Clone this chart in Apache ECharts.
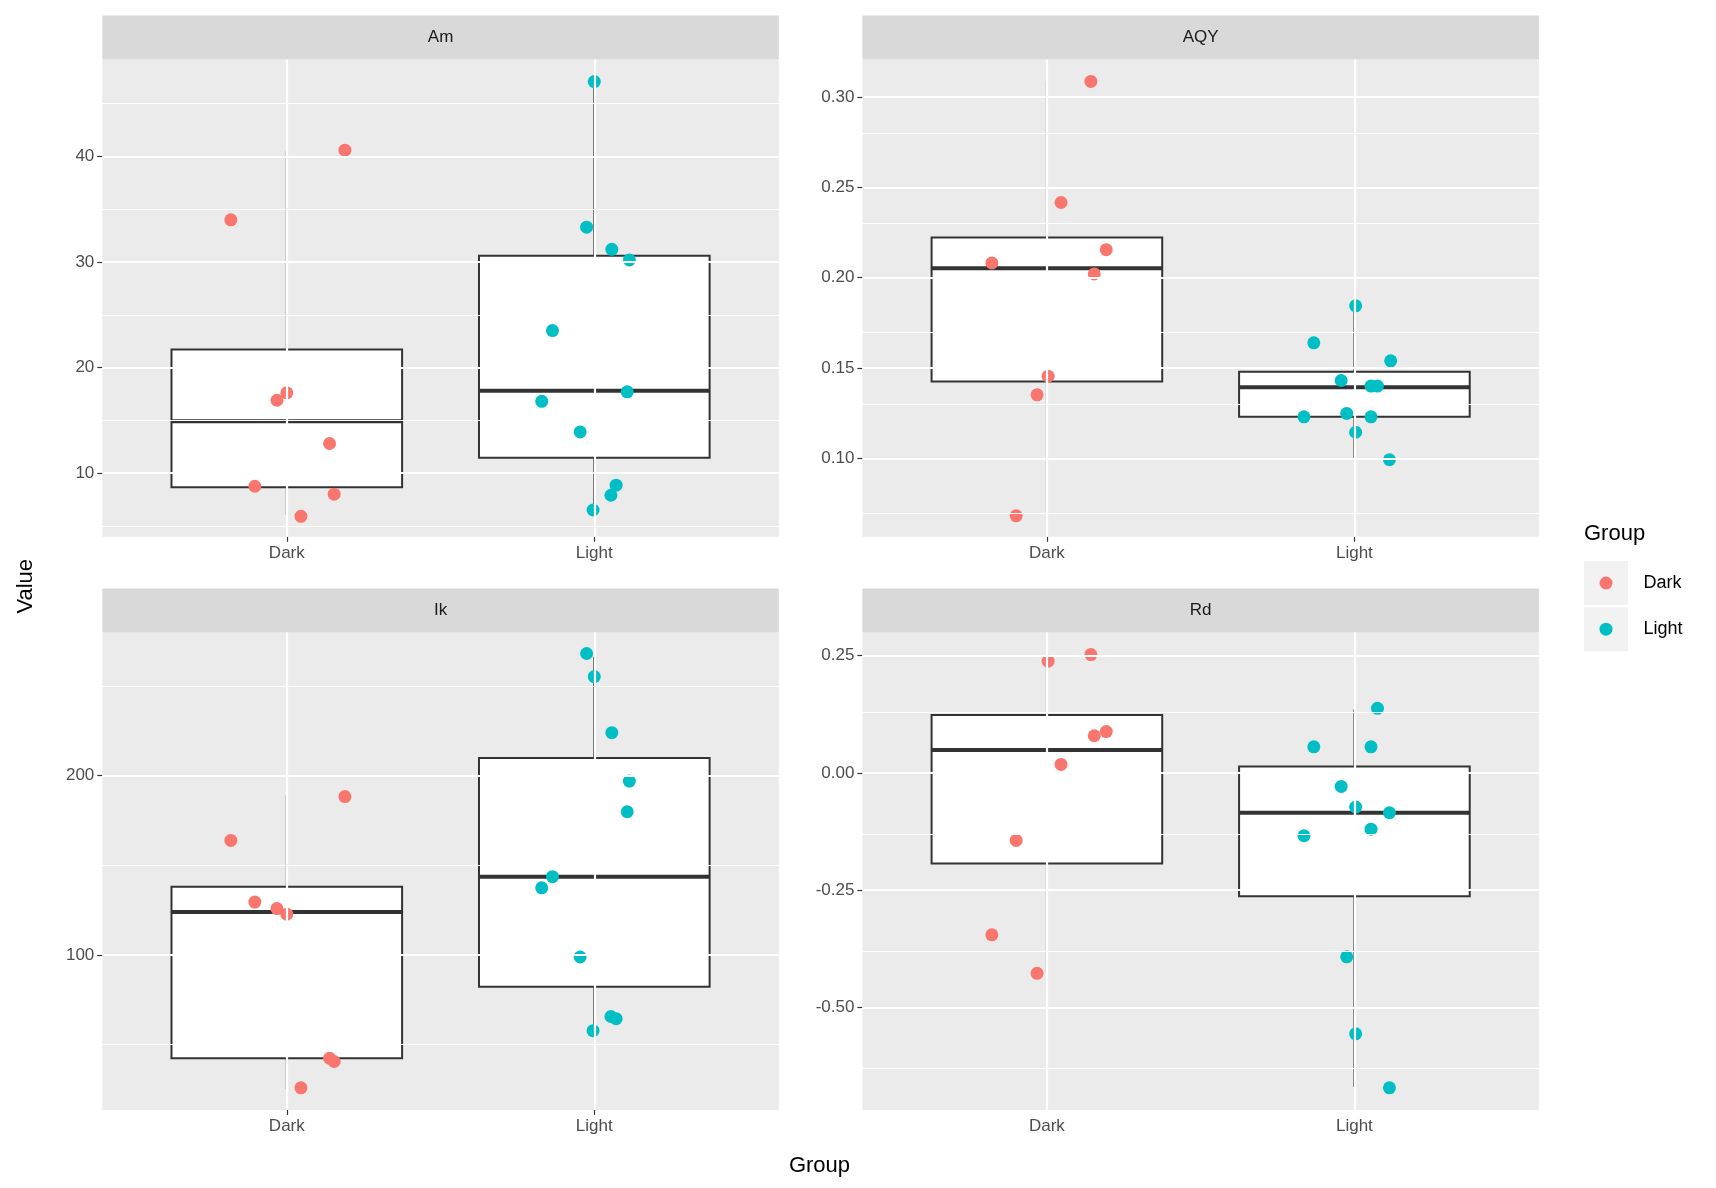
<!DOCTYPE html>
<html><head><meta charset="utf-8">
<script src="https://cdn.jsdelivr.net/npm/echarts@6/dist/echarts.min.js"></script>
<style>html,body{margin:0;padding:0;background:#fff}#c{width:1716px;height:1188px}</style>
</head><body><div id="c"></div>
<script>
const panels = ['Am','AQY','Ik','Rd'];
const groups = ['Dark','Light'];
// box stats [lowWhisker, Q1, median, Q3, highWhisker] for Dark, Light
const boxAm  = [[6.04,8.65,14.9,21.7,40.5],[6.6,11.46,17.8,30.6,47.1]];
const boxAQY = [[0.069,0.1426,0.2052,0.2222,0.3085],[0.0994,0.1231,0.1395,0.148,0.1845]];
const boxIk  = [[25.2,42.3,123.9,138,189],[57.7,82.2,143.6,209.8,266.3]];
const boxRd  = [[-0.427,-0.193,0.0485,0.1235,0.229],[-0.669,-0.263,-0.085,0.0134,0.135]];
// point values
const amDark  = [34.0,40.6,16.9,17.6,12.8,8.75,8.0,5.9];
const amLight = [47.1,33.3,31.2,30.2,23.5,17.7,16.8,13.9,8.85,7.9,6.5];
const aqyDark = [0.3085,0.2416,0.2155,0.2082,0.2021,0.1456,0.1353,0.0684];
const aqyLight= [0.1845,0.164,0.1541,0.1432,0.1401,0.1401,0.1231,0.125,0.1231,0.1146,0.0994];
const ikDark  = [188.3,163.8,129.4,125.8,122.7,42.3,40.5,25.8];
const ikLight = [268.1,255.2,223.9,196.9,179.8,143.6,137.4,98.8,65.6,64.4,57.7];
const rdDark  = [0.252,0.238,0.088,0.079,0.018,-0.144,-0.345,-0.427];
const rdLight = [0.1375,0.0555,0.0555,-0.029,-0.073,-0.085,-0.134,-0.120,-0.392,-0.556,-0.671];
// horizontal jitter (category units)
const jAmDark  = [-0.182,0.189,-0.032,0,0.139,-0.104,0.154,0.046];
const jAmLight = [0,-0.025,0.057,0.114,-0.136,0.107,-0.171,-0.046,0.071,0.054,-0.004];
const jAqyDark = [0.143,0.046,0.193,-0.179,0.154,0.004,-0.032,-0.1];
const jAqyLight= [0.004,-0.132,0.118,-0.043,0.054,0.075,-0.164,-0.025,0.054,0.004,0.114];
const jIkDark  = [0.189,-0.182,-0.104,-0.032,0,0.139,0.154,0.046];
const jIkLight = [-0.025,0,0.057,0.114,0.107,-0.136,-0.171,-0.046,0.054,0.071,-0.004];
const jRdDark  = [0.143,0.004,0.193,0.154,0.046,-0.1,-0.179,-0.032];
const jRdLight = [0.075,-0.132,0.054,-0.043,0.004,0.114,-0.164,0.054,-0.025,0.004,0.114];
// axis ticks
const ticksAm = [10,20,30,40], minorAm = [5,15,25,35,45];
const ticksAQY = [0.10,0.15,0.20,0.25,0.30], minorAQY = [0.075,0.125,0.175,0.225,0.275];
const ticksIk = [100,200], minorIk = [50,150,250];
const ticksRd = [-0.50,-0.25,0.00,0.25], minorRd = [-0.625,-0.375,-0.125,0.125];
const yRange = [[3.96,49.2],[0.0568,0.3207],[13.5,279.8],[-0.718,0.299]];

const boxes=[boxAm,boxAQY,boxIk,boxRd];
const pts=[[amDark,amLight],[aqyDark,aqyLight],[ikDark,ikLight],[rdDark,rdLight]];
const jit=[[jAmDark,jAmLight],[jAqyDark,jAqyLight],[jIkDark,jIkLight],[jRdDark,jRdLight]];
const ticks=[ticksAm,ticksAQY,ticksIk,ticksRd], minors=[minorAm,minorAQY,minorIk,minorRd];
const fmt=[v=>String(v),v=>v.toFixed(2),v=>String(v),v=>v.toFixed(2)];
const colors=['#F8766D','#00BFC4'];

const S=1.1;
const lefts=[93*S,784*S,93*S,784*S], tops=[54*S,54*S,575*S,575*S];
const W=615*S, H=434*S;
const grid=[],xAxis=[],yAxis=[],series=[],graphic=[];
for(let i=0;i<4;i++){
  grid.push({left:lefts[i],top:tops[i],width:W,height:H,show:true,backgroundColor:'#ebebeb',borderWidth:0,containLabel:false});
  xAxis.push({type:'value',gridIndex:i,min:0.4,max:2.6,splitLine:{show:false},
    axisLine:{show:false},axisTick:{show:true,customValues:[1,2],length:5,lineStyle:{color:'#333',width:1.2}},
    axisLabel:{customValues:[1,2],formatter:v=>groups[Math.round(v)-1],color:'#4d4d4d',fontSize:17,fontFamily:'Liberation Sans',margin:8}});
  yAxis.push({type:'value',gridIndex:i,min:yRange[i][0],max:yRange[i][1],splitLine:{show:false},
    axisLine:{show:false},axisTick:{show:true,customValues:ticks[i],length:5,lineStyle:{color:'#333',width:1.2}},
    axisLabel:{customValues:ticks[i],formatter:fmt[i],color:'#4d4d4d',fontSize:17,fontFamily:'Liberation Sans',margin:8}});
  // gridlines
  series.push({type:'scatter',xAxisIndex:i,yAxisIndex:i,data:[],silent:true,z:1,
    markLine:{silent:true,symbol:'none',animation:false,label:{show:false},
      data:[...minors[i].map(v=>({yAxis:v,lineStyle:{color:'#fff',width:1.1,type:'solid'}})),
            ...ticks[i].map(v=>({yAxis:v,lineStyle:{color:'#fff',width:2.2,type:'solid'}})),
            {xAxis:1,lineStyle:{color:'#fff',width:2.2,type:'solid'}},{xAxis:2,lineStyle:{color:'#fff',width:2.2,type:'solid'}}]}});
  // boxes
  series.push({type:'custom',xAxisIndex:i,yAxisIndex:i,z:2,silent:true,
    data:boxes[i].map((b,g)=>[g+1,...b]),
    renderItem:(p,api)=>{
      const x=api.value(0),lo=api.value(1),q1=api.value(2),md=api.value(3),q3=api.value(4),hi=api.value(5);
      const pl=api.coord([x-0.375,q3]),pr=api.coord([x+0.375,q1]);
      const c=api.coord([x,md]);
      const pLo=api.coord([x,lo]),pHi=api.coord([x,hi]),pQ1=api.coord([x,q1]),pQ3=api.coord([x,q3]);
      const st={stroke:'#333',lineWidth:2,fill:null};
      return {type:'group',children:[
        {type:'line',shape:{x1:pHi[0],y1:pHi[1],x2:pQ3[0],y2:pQ3[1]},style:st},
        {type:'line',shape:{x1:pLo[0],y1:pLo[1],x2:pQ1[0],y2:pQ1[1]},style:st},
        {type:'rect',shape:{x:pl[0],y:pl[1],width:pr[0]-pl[0],height:pr[1]-pl[1]},style:{stroke:'#333',lineWidth:2,fill:'#fff'}},
        {type:'line',shape:{x1:pl[0],y1:c[1],x2:pr[0],y2:c[1]},style:{stroke:'#333',lineWidth:4}}
      ]};
    }});
  for(let g=0;g<2;g++){
    series.push({type:'scatter',xAxisIndex:i,yAxisIndex:i,z:3,symbolSize:13,
      itemStyle:{color:colors[g],opacity:1},
      data:pts[i][g].map((v,k)=>[g+1+jit[i][g][k],v])});
  }
  graphic.push({type:'rect',shape:{x:lefts[i],y:tops[i]-40*S,width:W,height:40*S},style:{fill:'#d9d9d9'},z:0});
  graphic.push({type:'text',x:lefts[i]+W/2,y:tops[i]-20*S,style:{text:panels[i],fill:'#1a1a1a',font:'17px "Liberation Sans"',align:'center',verticalAlign:'middle'}});
}
graphic.push({type:'text',x:745*S,y:1060*S,style:{text:'Group',fill:'#000',font:'22px "Liberation Sans"',align:'center',verticalAlign:'middle'}});
graphic.push({type:'text',x:24*S,y:533*S,rotation:Math.PI/2,style:{text:'Value',fill:'#000',font:'22px "Liberation Sans"',align:'center',verticalAlign:'middle'}});
graphic.push({type:'text',x:1440*S,y:485*S,style:{text:'Group',fill:'#000',font:'22px "Liberation Sans"',align:'left',verticalAlign:'middle'}});
groups.forEach((g,k)=>{
  const y=510*S+k*42*S;
  graphic.push({type:'rect',shape:{x:1440*S,y:y,width:40*S,height:40*S},style:{fill:'#f2f2f2'}});
  graphic.push({type:'circle',shape:{cx:1460*S,cy:y+20*S,r:6.5},style:{fill:colors[k]}});
  graphic.push({type:'text',x:1494*S,y:y+20*S,style:{text:g,fill:'#000',font:'18px "Liberation Sans"',align:'left',verticalAlign:'middle'}});
});
const chart=echarts.init(document.getElementById('c'));
chart.setOption({animation:false,backgroundColor:'#fff',grid,xAxis,yAxis,series,graphic});
</script></body></html>
